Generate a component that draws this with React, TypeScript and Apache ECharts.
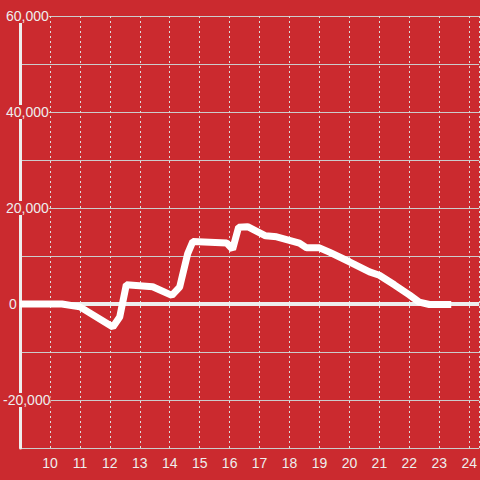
import React, { useEffect, useRef } from "react";
import * as echarts from "echarts";

const hours = [9.0, 10.4, 11.0, 12.1, 12.33, 12.55, 13.43, 14.07, 14.33, 14.6, 14.77, 15.9, 16.1, 16.3, 16.6, 17.2, 17.57, 18.33, 18.57, 19.0, 19.33, 20.0, 20.67, 21.0, 21.5, 22.0, 22.33, 22.67, 23.4];
const values = [0, 0, -600, -4800, -2700, 4000, 3600, 1800, 3500, 10500, 13000, 12700, 11400, 16000, 16100, 14200, 14000, 12700, 11700, 11700, 10800, 8800, 6700, 6000, 4000, 1900, 400, -100, -100];
const xTicks = [10, 11, 12, 13, 14, 15, 16, 17, 18, 19, 20, 21, 22, 23, 24];
const yLabelValues = [60000, 40000, 20000, 0, -20000];

export default function App() {
  const ref = useRef<HTMLDivElement>(null);
  useEffect(() => {
    if (!ref.current) return;
    const chart = echarts.init(ref.current, null, { renderer: "svg" });
    const bg = "#cb2a2f";
    const txt = { color: "#eeeeee", fontSize: 14, fontFamily: "Liberation Sans, Arial, sans-serif", backgroundColor: bg };
    chart.setOption({
      animation: false,
      backgroundColor: bg,
      grid: { left: 20, right: 0, top: 16, bottom: 32, containLabel: false },
      xAxis: {
        type: "value",
        min: 9,
        max: 24.3333,
        interval: 1,
        axisLine: { show: false },
        axisTick: { show: false },
        axisLabel: {
          color: "#eeeeee",
          fontSize: 14,
          fontFamily: "Liberation Sans, Arial, sans-serif",
          margin: 8,
          showMinLabel: false,
          showMaxLabel: false,
          formatter: (v: number) => (xTicks.includes(v) ? String(v) : ""),
        },
        splitLine: { show: true, lineStyle: { color: "#dddddd", width: 1, type: [2, 3] } },
      },
      yAxis: {
        type: "value",
        min: -30000,
        max: 60000,
        interval: 10000,
        axisLine: { show: true, onZero: false, lineStyle: { color: "#eeeeee", width: 3 } },
        axisTick: { show: false },
        axisLabel: {
          align: "left",
          margin: 17,
          formatter: (v: number) => {
            if (!yLabelValues.includes(v)) return "";
            const s = v.toLocaleString("en-US");
            if (v === 0) return "{z|" + s + "}";
            if (v < 0) return "{n|" + s + "}";
            return "{p|" + s + "}";
          },
          rich: {
            p: { ...txt, padding: [0, 0, 0, 3] },
            n: { ...txt, padding: [0, 0, 0, 0] },
            z: { ...txt, padding: [0, 0, 0, 6] },
          },
        },
        splitLine: { show: true, lineStyle: { color: "#cccccc", width: 1 } },
      },
      series: [
        {
          type: "line",
          data: hours.map((h, i) => [h, values[i]]),
          showSymbol: false,
          symbol: "none",
          lineStyle: { color: "#ffffff", width: 7 },
          z: 3,
          markLine: {
            silent: true,
            symbol: "none",
            label: { show: false },
            lineStyle: { color: "#eeeeee", width: 4, type: "solid" },
            data: [{ yAxis: 0 }],
            z: 2,
          },
        },
      ],
    });
    return () => chart.dispose();
  }, []);
  return <div ref={ref} style={{ position: "fixed", left: 0, top: 0, width: 480, height: 480 }} />;
}
